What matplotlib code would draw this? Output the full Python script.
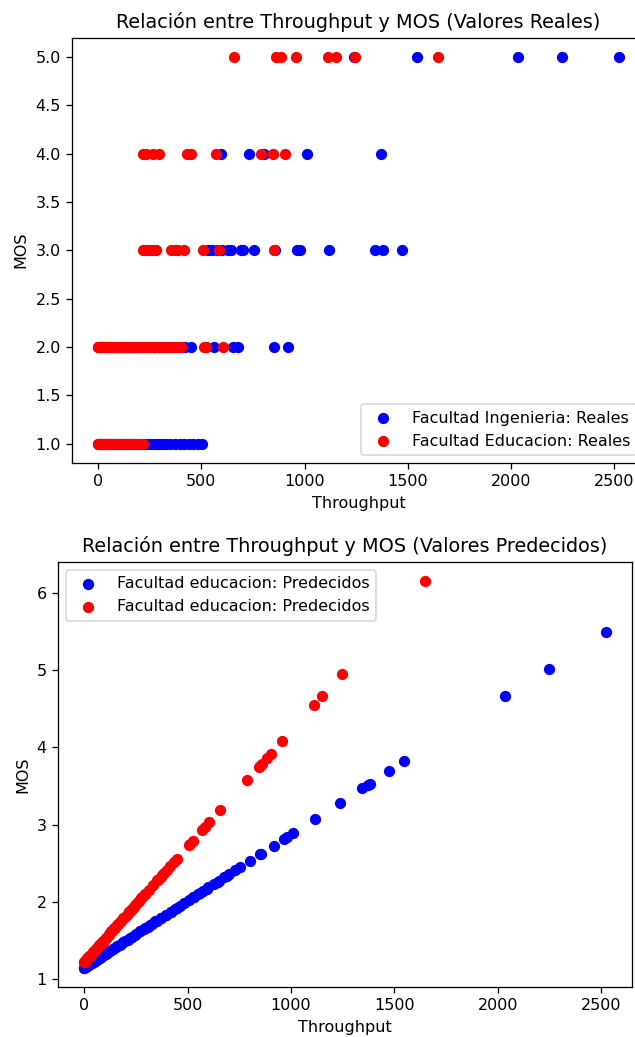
import matplotlib
matplotlib.use("Agg")
import matplotlib.pyplot as plt

dpi = 115.5  # screenshot scale of the notebook output

# Facultad Ingenieria: throughput, real MOS, predicted MOS
thr_ing = [
    1237, 1546, 2034, 2246, 2522,
    594, 730, 802, 1010, 1372,
    530, 552, 575, 600, 627, 645, 690, 700, 754, 855, 965, 980, 1116, 1343, 1382, 1473,
    0, 8, 18, 30, 42, 55, 68, 80, 95, 110, 125, 140, 160, 180, 200, 220, 245, 270,
    295, 320, 345, 370, 395, 420, 449, 525, 560, 652, 676, 850, 918,
    0, 6, 14, 25, 36, 48, 60, 75, 90, 105, 120, 138, 155, 172, 190, 210, 230, 250,
    270, 290, 310, 330, 350, 372, 395, 418, 440, 462, 485, 505,
]
mos_ing = [5] * 5 + [4] * 5 + [3] * 16 + [2] * 31 + [1] * 30
pred_ing = [
    3.28, 3.82, 4.66, 5.02, 5.50,
    2.17, 2.41, 2.53, 2.89, 3.52,
    2.06, 2.10, 2.14, 2.19, 2.23, 2.26, 2.34, 2.36, 2.45, 2.62, 2.81, 2.84, 3.08, 3.47, 3.53, 3.69,
    1.15, 1.16, 1.18, 1.20, 1.22, 1.24, 1.27, 1.29, 1.31, 1.34, 1.37, 1.39, 1.43, 1.46, 1.50, 1.53, 1.57, 1.62,
    1.66, 1.70, 1.75, 1.79, 1.83, 1.87, 1.92, 2.06, 2.12, 2.27, 2.32, 2.62, 2.73,
    1.15, 1.16, 1.17, 1.19, 1.21, 1.23, 1.25, 1.28, 1.31, 1.33, 1.36, 1.39, 1.42, 1.45, 1.48, 1.51, 1.55, 1.58,
    1.62, 1.65, 1.68, 1.72, 1.75, 1.79, 1.83, 1.87, 1.91, 1.95, 1.99, 2.02,
]

# Facultad Educacion: throughput, real MOS, predicted MOS
thr_edu = [
    657, 860, 884, 957, 1111, 1150, 1246, 1647,
    216, 230, 264, 293, 433, 449, 570, 788, 845, 903,
    216, 232, 248, 265, 280, 353, 372, 386, 415, 507, 584, 850,
    0, 8, 16, 25, 35, 45, 56, 68, 80, 92, 105, 118, 132, 146, 160, 175, 190, 205,
    222, 240, 258, 276, 295, 315, 335, 355, 378, 401, 512, 525, 604,
    0, 5, 11, 18, 26, 34, 43, 52, 62, 72, 83, 95, 108, 121, 135, 150, 165, 180, 198, 216,
]
mos_edu = [5] * 8 + [4] * 10 + [3] * 12 + [2] * 31 + [1] * 20
pred_edu = [
    3.19, 3.79, 3.87, 4.08, 4.55, 4.66, 4.95, 6.15,
    1.87, 1.91, 2.01, 2.10, 2.52, 2.56, 2.93, 3.58, 3.75, 3.92,
    1.87, 1.91, 1.96, 2.01, 2.06, 2.28, 2.33, 2.38, 2.46, 2.74, 2.97, 3.76,
    1.22, 1.24, 1.27, 1.29, 1.32, 1.35, 1.39, 1.42, 1.46, 1.50, 1.53, 1.57, 1.62, 1.66, 1.70, 1.74, 1.79, 1.83,
    1.88, 1.94, 1.99, 2.05, 2.10, 2.16, 2.22, 2.28, 2.35, 2.42, 2.75, 2.79, 3.03,
    1.22, 1.23, 1.25, 1.27, 1.30, 1.32, 1.35, 1.38, 1.41, 1.44, 1.47, 1.50, 1.54, 1.58, 1.62, 1.67, 1.71, 1.76, 1.81, 1.87,
]

W, H = 635, 1037
fig = plt.figure(figsize=(W / dpi, H / dpi), dpi=dpi)

# top axes is shifted right and runs past the figure edge, as in the screenshot
ax1 = fig.add_axes([72 / W, 1 - 463 / H, 573 / W, 425.5 / H])
ax1.scatter(thr_ing, mos_ing, color="blue", label="Facultad Ingenieria: Reales")
ax1.scatter(thr_edu, mos_edu, color="red", label="Facultad Educacion: Reales")
ax1.set_title("Relación entre Throughput y MOS (Valores Reales)")
ax1.set_xlabel("Throughput")
ax1.set_ylabel("MOS")
ax1.legend(loc="lower right")

ax2 = fig.add_axes([58 / W, 1 - 987 / H, 574 / W, 425 / H])
ax2.scatter(thr_ing, pred_ing, color="blue", label="Facultad educacion: Predecidos")
ax2.scatter(thr_edu, pred_edu, color="red", label="Facultad educacion: Predecidos")
ax2.set_title("Relación entre Throughput y MOS (Valores Predecidos)")
ax2.set_xlabel("Throughput")
ax2.set_ylabel("MOS")
ax2.legend(loc="upper left")

fig.savefig("out.png", dpi=dpi)
